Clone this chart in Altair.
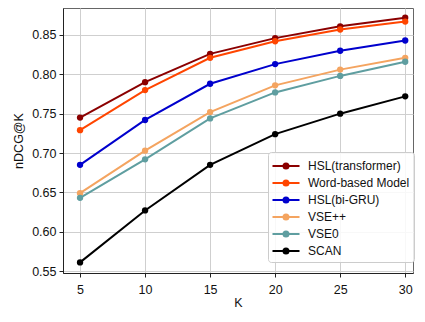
import altair as alt
import pandas as pd

K = [5, 10, 15, 20, 25, 30]
models = ["HSL(transformer)", "Word-based Model", "HSL(bi-GRU)", "VSE++", "VSE0", "SCAN"]
colors = ["#8B0000", "#FF4500", "#0000CD", "#F4A460", "#5F9EA0", "#000000"]
hsl_transformer = [0.745, 0.790, 0.826, 0.846, 0.861, 0.872]
word_based = [0.729, 0.780, 0.821, 0.842, 0.857, 0.867]
hsl_bigru = [0.685, 0.742, 0.788, 0.813, 0.830, 0.843]
vsepp = [0.649, 0.703, 0.752, 0.786, 0.806, 0.821]
vse0 = [0.643, 0.692, 0.744, 0.777, 0.798, 0.816]
scan = [0.561, 0.627, 0.685, 0.724, 0.750, 0.772]
x_ticks = [5, 10, 15, 20, 25, 30]
y_ticks = [0.55, 0.60, 0.65, 0.70, 0.75, 0.80, 0.85]

series = [hsl_transformer, word_based, hsl_bigru, vsepp, vse0, scan]
rows = []
for m, vals in zip(models, series):
    for k, v in zip(K, vals):
        rows.append({"K": k, "value": v, "model": m})
df = pd.DataFrame(rows)

FONT = "Liberation Sans"
sym_path = ("M-1.56,0L1.56,0"
            "M-0.29,0A0.29,0.29,0,1,1,0.29,0A0.29,0.29,0,1,1,-0.29,0Z")

color = alt.Color(
    "model:N",
    scale=alt.Scale(domain=models, range=colors),
    sort=models,
    legend=alt.Legend(
        title=None,
        orient="none",
        legendX=205,
        legendY=144,
        symbolType=sym_path,
        symbolSize=300,
        symbolStrokeWidth=2,
        symbolOffset=4,
        labelOffset=12,
        labelFontSize=12,
        labelFont=FONT,
        labelColor="#111",
        padding=4,
        rowPadding=0,
        strokeColor="#cccccc",
        fillColor="rgba(255,255,255,0.85)",
        cornerRadius=3,
        symbolOpacity=1,
    ),
)

x = alt.X("K:Q", scale=alt.Scale(domain=[3.69, 30.6], nice=False, zero=False),
          axis=alt.Axis(values=x_ticks, title="K", format="d", tickSize=4,
                        labelPadding=6, titlePadding=1))
y = alt.Y("value:Q", scale=alt.Scale(domain=[0.5475, 0.8843], nice=False, zero=False),
          axis=alt.Axis(values=y_ticks, title="nDCG@K", format=".2f", tickSize=4,
                        labelPadding=3, titlePadding=6))

base = alt.Chart(df).encode(x=x, y=y, color=color)
lines = base.mark_line(strokeWidth=2)
points = base.mark_point(filled=True, size=40, opacity=1)

chart = (lines + points).properties(
    width=350, height=265,
    autosize=alt.AutoSizeParams(type="none"),
    padding={"left": 55, "top": 0, "right": 4, "bottom": 39},
).configure_view(stroke="#666", strokeWidth=1).configure_axis(
    grid=True, gridColor="#cfcfcf", gridWidth=1,
    domainColor="#222", tickColor="#222",
    labelFont=FONT, titleFont=FONT, labelFontSize=12.5, titleFontSize=12.5,
    labelColor="#111", titleColor="#111", titleFontWeight="normal",
)

chart.save("out.html", embed_options={"renderer": "svg", "actions": False})
